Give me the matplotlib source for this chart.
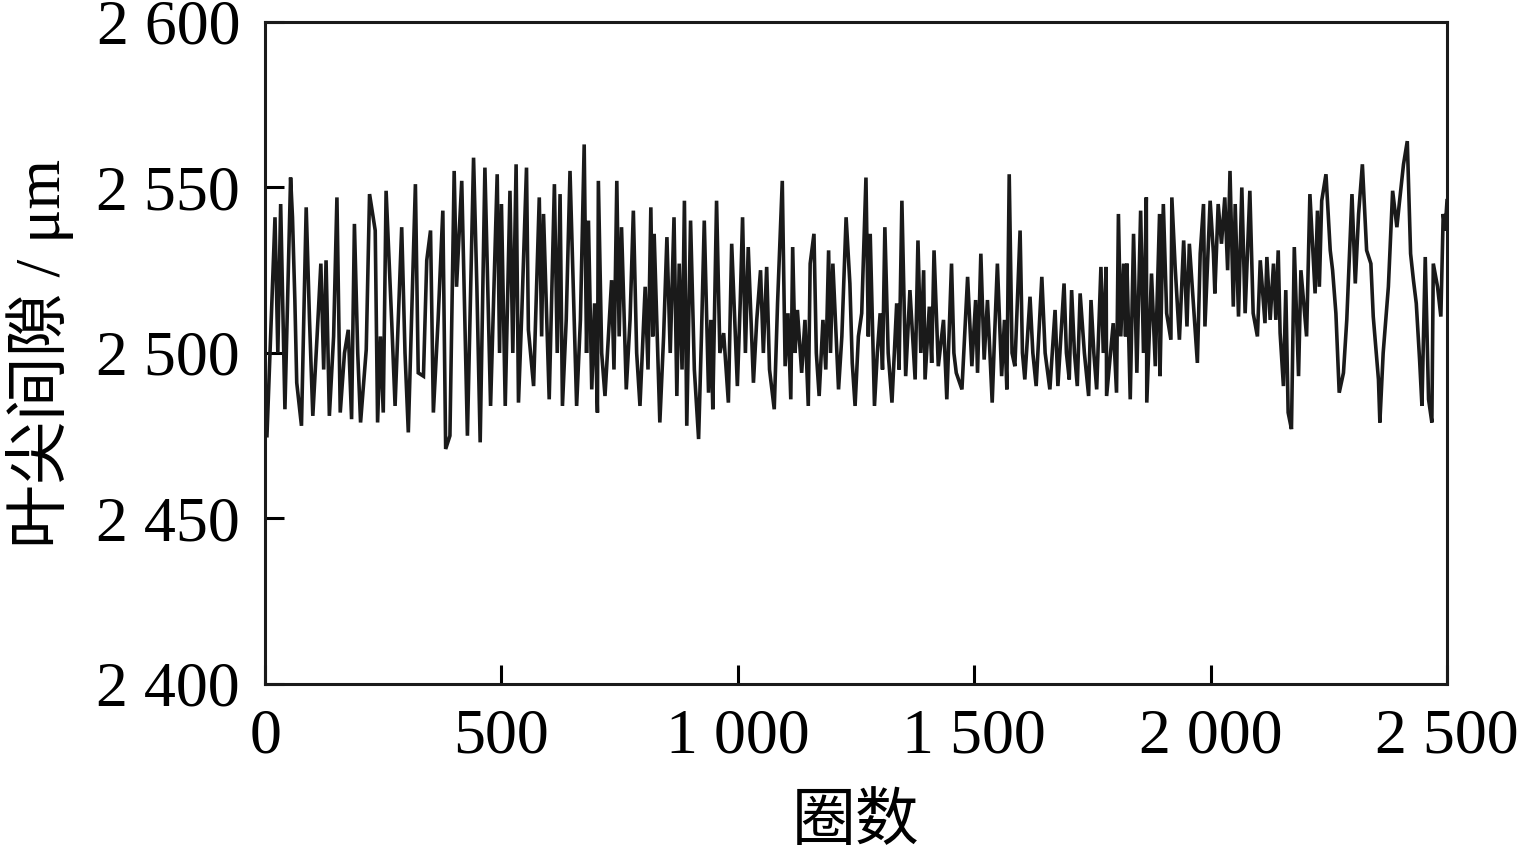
import matplotlib
matplotlib.use("Agg")
import matplotlib.pyplot as plt

# laps and blade tip clearance (peaks / troughs)
laps = [0, 4, 21, 27, 33, 42, 54, 58, 63, 67, 77, 87, 94, 101, 110, 118, 124, 129, 136, 145, 152, 159,
        168, 176, 183, 189, 196, 202, 214, 221, 233, 238, 244, 250, 256, 268, 275, 289, 296, 303, 318, 324,
        335, 342, 350, 356, 366, 376, 382, 391, 400, 405, 416, 428, 441, 448, 455, 465, 477, 491, 496,
        500, 508, 518, 524, 531, 536, 543, 553, 557, 568, 580, 585, 589, 601, 612, 618, 624, 629, 637, 645,
        659, 667, 675, 680, 684, 691, 697, 703, 705, 712, 719, 733, 738, 744, 749, 754, 764, 772, 779, 786,
        793, 804, 810, 816, 820, 823, 835, 843, 850, 857, 865, 871, 876, 882, 887, 892, 900, 908, 917, 923,
        929, 938, 943, 947, 955, 962, 970, 980, 987, 999, 1005, 1010, 1016,
        1022, 1033, 1040, 1048, 1054, 1061, 1067, 1077, 1084, 1094, 1100, 1106, 1112, 1116, 1121, 1126,
        1135, 1142, 1149, 1153, 1161, 1166, 1172, 1180, 1186, 1192, 1196, 1201, 1213, 1220, 1229, 1237,
        1242, 1248, 1255, 1262, 1271, 1276, 1280, 1289, 1295, 1301, 1306, 1311, 1318, 1326, 1336, 1341,
        1347, 1355, 1364, 1375, 1381, 1387, 1393, 1396, 1405, 1410, 1415, 1424, 1435, 1442, 1452, 1457,
        1462, 1474, 1486, 1495, 1503, 1507, 1514,
        1521, 1528, 1538, 1543, 1549, 1558, 1564, 1569, 1574, 1580, 1586, 1597, 1602, 1607, 1618, 1624,
        1631, 1643, 1650, 1660, 1671, 1677, 1690, 1695, 1701, 1706, 1712, 1718, 1724, 1733, 1742, 1747,
        1753, 1759, 1768, 1773, 1779, 1780, 1794, 1801, 1805, 1810, 1816, 1820, 1823, 1830, 1837, 1844,
        1852, 1858, 1864, 1865, 1875, 1883, 1892, 1893, 1900, 1907, 1916, 1918, 1925, 1934, 1943, 1950,
        1955, 1964, 1972, 1978,
        1985, 1988, 1999, 2006, 2009, 2016, 2023, 2030, 2036, 2041, 2048, 2052, 2059, 2066, 2073, 2083,
        2090, 2099, 2105, 2115, 2119, 2126, 2133, 2138, 2143, 2147, 2154, 2159, 2164, 2171, 2177, 2186,
        2191, 2203, 2210, 2221, 2226, 2230, 2235, 2244, 2253, 2258, 2265, 2272, 2281, 2288, 2299, 2306,
        2313, 2321, 2330, 2339, 2344, 2355, 2358, 2365, 2376, 2385, 2394, 2399, 2408, 2416, 2423, 2429,
        2435, 2442, 2447, 2454, 2461, 2468, 2471, 2480, 2487, 2492, 2496, 2500]
clearance = [2475, 2475, 2541, 2500, 2545, 2483, 2553, 2541, 2516, 2491, 2478, 2544, 2510, 2481, 2505, 2527, 2495, 2528, 2481, 2505, 2547, 2482,
             2500, 2507, 2480, 2539, 2500, 2479, 2501, 2548, 2537, 2479, 2505, 2482, 2549, 2509, 2484, 2538, 2500, 2476, 2551, 2494,
             2493, 2528, 2537, 2482, 2510, 2543, 2471, 2475, 2555, 2520, 2552, 2475, 2559, 2520, 2473, 2556, 2484, 2554, 2500,
             2545, 2484, 2549, 2500, 2557, 2485, 2512, 2556, 2507, 2490, 2547, 2505, 2542, 2486, 2551, 2500, 2548, 2484, 2510, 2555,
             2484, 2510, 2563, 2500, 2540, 2489, 2515, 2482, 2552, 2500, 2487, 2522, 2495, 2552, 2505, 2538, 2489, 2510, 2543, 2500,
             2484, 2520, 2495, 2544, 2505, 2536, 2479, 2505, 2535, 2500, 2541, 2487, 2527, 2495, 2546, 2478, 2540, 2495, 2474, 2505,
             2540, 2488, 2510, 2483, 2546, 2500, 2506, 2485, 2533, 2490, 2515, 2541, 2500,
             2532, 2491, 2510, 2525, 2500, 2526, 2495, 2483, 2515, 2552, 2496, 2512, 2486, 2532, 2500, 2513,
             2494, 2510, 2484, 2527, 2536, 2500, 2487, 2510, 2495, 2531, 2500, 2527, 2489, 2505, 2541, 2521,
             2497, 2484, 2505, 2512, 2553, 2505, 2536, 2484, 2500, 2512, 2495, 2538, 2500, 2485, 2515, 2495,
             2546, 2493, 2519, 2492, 2534, 2500, 2525, 2492, 2514, 2497, 2531, 2496, 2510, 2486, 2527, 2500,
             2494, 2489, 2523, 2496, 2516, 2494, 2530,
             2498, 2516, 2485, 2505, 2527, 2493, 2510, 2489, 2554, 2500, 2496, 2537, 2500, 2492, 2517, 2500,
             2490, 2523, 2500, 2489, 2513, 2490, 2521, 2500, 2492, 2519, 2500, 2490, 2518, 2500, 2487, 2516,
             2500, 2489, 2526, 2500, 2526, 2487, 2509, 2488, 2542, 2505, 2527, 2505, 2527, 2486, 2536, 2494,
             2543, 2500, 2547, 2485, 2524, 2496, 2542, 2493, 2545, 2512, 2504, 2547, 2526, 2504, 2534, 2508,
             2533, 2514, 2497, 2530,
             2545, 2508, 2546, 2530, 2518, 2545, 2533, 2547, 2525, 2555, 2514, 2545, 2511, 2550, 2512, 2549,
             2512, 2505, 2528, 2509, 2529, 2510, 2527, 2510, 2531, 2506, 2490, 2519, 2482, 2477, 2532, 2493,
             2525, 2505, 2548, 2518, 2543, 2520, 2546, 2554, 2531, 2525, 2512, 2488, 2494, 2510, 2548, 2521,
             2542, 2557, 2531, 2527, 2511, 2492, 2479, 2500, 2520, 2549, 2538, 2545, 2557, 2564, 2530, 2522,
             2515, 2498, 2484, 2529, 2486, 2479, 2527, 2520, 2511, 2542, 2537, 2546]

xticks = [0, 500, 1000, 1500, 2000, 2500]
xtick_labels = ["0", "500", "1 000", "1 500", "2 000", "2 500"]
yticks = [2400, 2450, 2500, 2550, 2600]
ytick_labels = ["2 400", "2 450", "2 500", "2 550", "2 600"]

serif = ["Liberation Serif", "Noto Sans CJK SC"]

fig = plt.figure(figsize=(15.19, 8.58), dpi=100)
ax = fig.add_axes([0.1745, 0.2028, 0.7781, 0.7716])

ax.plot(laps, clearance, color="#1a1a1a", linewidth=2.6, solid_joinstyle="miter")

ax.set_xlim(0, 2500)
ax.set_ylim(2400, 2600)
ax.set_xticks(xticks)
ax.set_xticklabels(xtick_labels, family=serif, fontsize=46)
ax.set_yticks(yticks)
ax.set_yticklabels(ytick_labels, family=serif, fontsize=46)
ax.tick_params(axis="x", direction="in", length=14, width=2.2, pad=18)
ax.tick_params(axis="y", direction="in", length=14, width=2.2, pad=18)

for s in ax.spines.values():
    s.set_linewidth(2.2)
    s.set_color("#1a1a1a")

ax.set_xlabel("圈数", family=serif, fontsize=46, labelpad=20)
ax.set_ylabel("叶尖间隙 / μm", family=serif, fontsize=46, labelpad=16)

fig.savefig("out.png", dpi=100)
